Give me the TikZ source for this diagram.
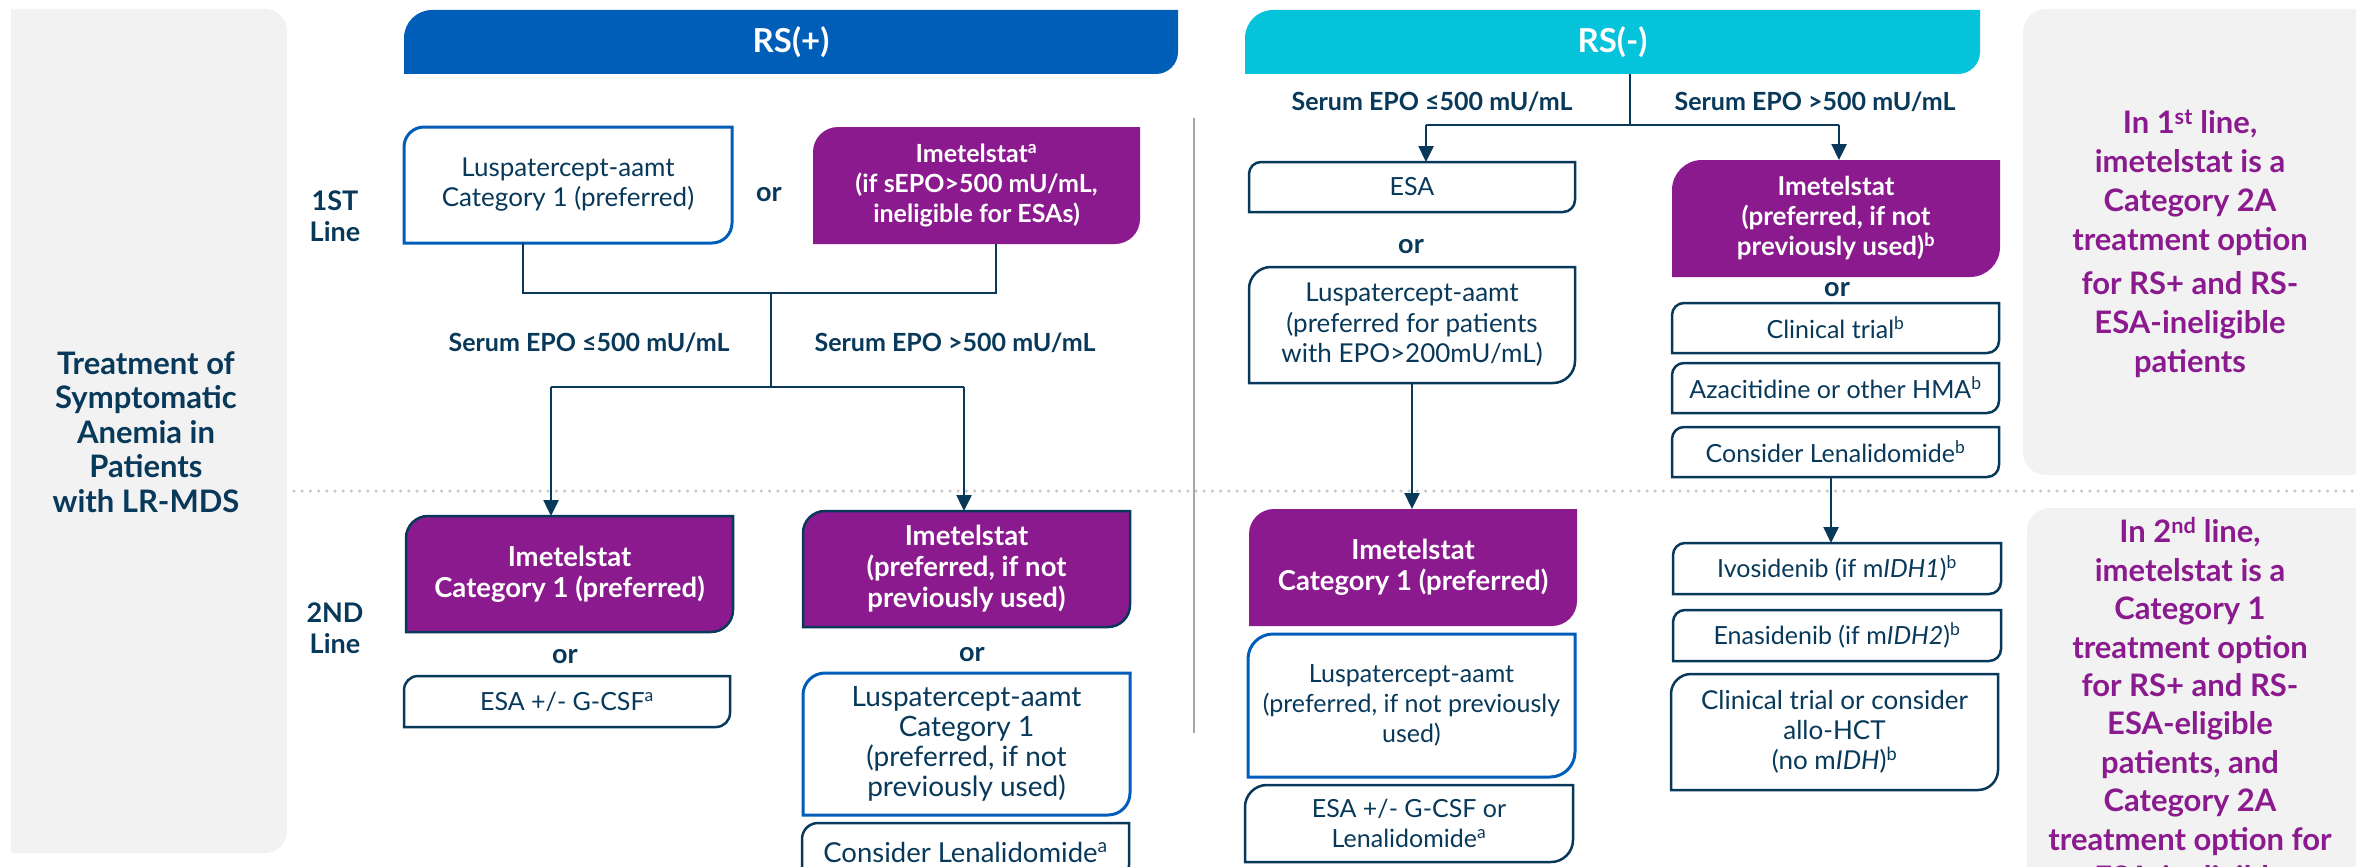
\documentclass[tikz,border=0pt]{standalone}
\usepackage{fontspec}
\setmainfont{Lato}
\usetikzlibrary{arrows.meta,calc}
\definecolor{navy}{HTML}{08395A}
\definecolor{rsblue}{HTML}{005EB8}
\definecolor{rscyan}{HTML}{06C3DC}
\definecolor{purp}{HTML}{8B1A8F}
\definecolor{panel}{HTML}{F2F2F2}
\definecolor{dotc}{HTML}{C8C8C8}
\definecolor{sepc}{HTML}{A6A6A6}
\pgfdeclarelayer{bg}
\pgfsetlayers{bg,main}
\tikzset{
 boxtxt/.style={inner sep=0pt,outer sep=0pt,align=center,text=navy,font=\fontsize{25}{30}\selectfont},
 wtxt/.style={boxtxt,text=white,font=\bfseries\fontsize{25}{30}\selectfont},
 wbig/.style={boxtxt,text=white,font=\bfseries\fontsize{27.5}{31}\selectfont},
 lbl/.style={text=navy,font=\bfseries\fontsize{25}{29}\selectfont,inner sep=0pt},
 ortxt/.style={text=navy,font=\bfseries\fontsize{27}{30}\selectfont,inner sep=0pt},
 conn/.style={draw=navy,line width=2.5pt},
 arr/.style={conn,-{Triangle[width=15pt,length=16pt]}},
 bluebd/.style={draw=rsblue,line width=3pt,fill=white},
 navybd/.style={draw=navy,line width=2.5pt,fill=white},
 purpfill/.style={fill=purp},
 purpbd/.style={fill=purp,draw=navy,line width=2.5pt},
 hdr/.style={boxtxt,text=white,font=\bfseries\fontsize{33}{40}\selectfont},
 sidetxt/.style={text=purp,align=center,inner sep=0pt},
}
% node with given rectangle
\newcommand\bx[7]{\node[#6,minimum width={(#4)-(#2)},minimum height={(#5)-(#3)}] (#1) at ({((#2)+(#4))/2},{((#3)+(#5))/2}) {#7};}
% background shape: rounded top-left and bottom-right
\newcommand\tlbr[4]{\begin{pgfonlayer}{bg}
 \path[#1] (#2.south west) -- ([yshift=-#3pt]#2.north west) arc[start angle=180,end angle=90,radius=#3pt] -- (#2.north east) -- ([yshift=#4pt]#2.south east) arc[start angle=0,end angle=-90,radius=#4pt] -- cycle;
 \end{pgfonlayer}}
\begin{document}
\begin{tikzpicture}[x=1pt,y=-1pt]
\useasboundingbox (0,0) rectangle (2364,867);
% panels
\fill[panel] (11,9) -- (265,9) arc[start angle=90,end angle=0,radius=22pt] -- (287,831) arc[start angle=0,end angle=-90,radius=22pt] -- (11,853) -- cycle;
\fill[panel] (2356,9) -- (2046,9) arc[start angle=90,end angle=180,radius=23pt] -- (2023,452) arc[start angle=180,end angle=270,radius=23pt] -- (2356,475) -- cycle;
\fill[panel] (2356,508) -- (2050,508) arc[start angle=90,end angle=180,radius=23pt] -- (2027,900) -- (2356,900) -- cycle;
% dotted divider and separator
\coordinate (dl) at (294,491);
\coordinate (dr) at (2358,491);
\draw[dotc,line width=3.5pt,line cap=round,dash pattern=on 0pt off 8.2pt] (dl) -- (dr);
\coordinate (s1) at (1194,118);
\coordinate (s2) at (1194,733);
\draw[sepc,line width=2pt] (s1) -- (s2);
% side texts
\node[text=navy,font=\bfseries\fontsize{31}{34.5}\selectfont,align=center,inner sep=0pt] (title) at (146,432) {Treatment of\\Symptomatic\\Anemia in\\Patients\\with LR-MDS};
\node[text=navy,font=\bfseries\fontsize{27}{31}\selectfont,align=center,inner sep=0pt] (l1) at (335,216) {1ST\\Line};
\node[text=navy,font=\bfseries\fontsize{27}{31}\selectfont,align=center,inner sep=0pt] (l2) at (335,628) {2ND\\Line};
\node[sidetxt,font=\bfseries\fontsize{31}{39}\selectfont] (n1) at (2190,244) {In 1\textsuperscript{st} line,\\imetelstat is a\\Category 2A\\treatment option\\[5pt]for RS+ and RS-\\ESA-ineligible\\patients};
\node[sidetxt,font=\bfseries\fontsize{31}{38.4}\selectfont] (n2) at (2190,706) {In 2\textsuperscript{nd} line,\\imetelstat is a\\Category 1\\treatment option\\for RS+ and RS-\\ESA-eligible\\patients, and\\Category 2A\\treatment option for\\ESA-ineligible};
% headers
\bx{hp}{404}{10}{1178}{74}{hdr}{RS(+)}
\tlbr{fill=rsblue}{hp}{28}{22}
\bx{hm}{1245}{10}{1980}{74}{hdr}{RS(-)}
\tlbr{fill=rscyan}{hm}{28}{22}
% RS(+) boxes
\bx{A}{404}{127}{732}{243}{boxtxt,font=\fontsize{26}{30}\selectfont}{Luspatercept-aamt\\Category 1 (preferred)}
\tlbr{bluebd}{A}{20}{20}
\bx{B}{813}{127}{1140}{244}{wtxt}{Imetelstat\textsuperscript{a}\\(if sEPO>500 mU/mL,\\ineligible for ESAs)}
\tlbr{purpfill}{B}{25}{25}
\node[ortxt] (or1) at (769,195) {or};
\bx{C}{406}{516}{733}{632}{wbig}{Imetelstat\\Category 1 (preferred)}
\tlbr{purpbd}{C}{22}{22}
\node[ortxt] (or2) at (565,657) {or};
\bx{E}{404}{676}{730}{727}{boxtxt}{ESA +/- G-CSF\textsuperscript{a}}
\tlbr{navybd}{E}{14}{14}
\bx{D}{803}{511}{1130}{627}{wbig}{Imetelstat\\(preferred, if not\\previously used)}
\tlbr{purpbd}{D}{22}{22}
\node[ortxt] (or3) at (972,655) {or};
\bx{F}{803}{673}{1130}{815}{boxtxt,font=\fontsize{28}{30}\selectfont}{Luspatercept-aamt\\Category 1\\(preferred, if not\\previously used)}
\tlbr{bluebd}{F}{22}{22}
\bx{G}{802}{823}{1129}{881}{boxtxt,font=\fontsize{27.5}{30}\selectfont}{Consider Lenalidomide\textsuperscript{a}}
\tlbr{navybd}{G}{16}{16}
% RS(+) labels
\node[lbl] (e1) at (589,343) {Serum EPO ≤500 mU/mL};
\node[lbl] (e2) at (955,343) {Serum EPO >500 mU/mL};
% RS(-) labels
\node[lbl] (e3) at (1432,102) {Serum EPO ≤500 mU/mL};
\node[lbl] (e4) at (1815,102) {Serum EPO >500 mU/mL};
% RS(-) left column
\bx{H}{1249}{162}{1575}{212}{boxtxt}{ESA}
\tlbr{navybd}{H}{12}{12}
\node[ortxt] (or4) at (1411,247) {or};
\bx{I}{1249}{267}{1575}{383}{boxtxt,font=\fontsize{26}{30.5}\selectfont}{Luspatercept-aamt\\(preferred for patients\\with EPO>200mU/mL)}
\tlbr{navybd}{I}{22}{22}
\bx{J}{1249}{509}{1577}{626}{wbig}{Imetelstat\\Category 1 (preferred)}
\tlbr{purpfill}{J}{25}{25}
\bx{K}{1248}{634}{1575}{777}{boxtxt}{Luspatercept-aamt\\(preferred, if not previously\\used)}
\tlbr{bluebd}{K}{25}{25}
\bx{L}{1245}{785}{1573}{862}{boxtxt}{ESA +/- G-CSF or\\Lenalidomide\textsuperscript{a}}
\tlbr{navybd}{L}{22}{22}
% RS(-) right column
\bx{M}{1672}{160}{2000}{277}{wtxt,font=\bfseries\fontsize{26}{30}\selectfont}{Imetelstat\\(preferred, if not\\previously used)\textsuperscript{b}}
\tlbr{purpfill}{M}{30}{30}
\node[ortxt] (or5) at (1837,290) {or};
\bx{N}{1672}{303}{1999}{353}{boxtxt}{Clinical trial\textsuperscript{b}}
\tlbr{navybd}{N}{12}{12}
\bx{O}{1672}{363}{1999}{413}{boxtxt}{Azacitidine or other HMA\textsuperscript{b}}
\tlbr{navybd}{O}{12}{12}
\bx{P}{1672}{427}{1999}{477}{boxtxt}{Consider Lenalidomide\textsuperscript{b}}
\tlbr{navybd}{P}{12}{12}
\bx{Q}{1673}{543}{2001}{594}{boxtxt}{Ivosidenib (if m\textit{IDH1})\textsuperscript{b}}
\tlbr{navybd}{Q}{12}{12}
\bx{R}{1673}{610}{2001}{661}{boxtxt}{Enasidenib (if m\textit{IDH2})\textsuperscript{b}}
\tlbr{navybd}{R}{12}{12}
\bx{S}{1671}{674}{1998}{790}{boxtxt,font=\fontsize{26}{30}\selectfont}{Clinical trial or consider\\allo-HCT\\(no m\textit{IDH})\textsuperscript{b}}
\tlbr{navybd}{S}{20}{20}
% connectors RS(+)
\coordinate (p1) at (523,293);
\coordinate (p2) at (996,293);
\coordinate (p3) at (771,293);
\coordinate (p4) at (771,387);
\coordinate (p5) at (551,387);
\coordinate (p6) at (964,387);
\draw[conn] (A.south -| p1) -- (p1) -- (p2) -- (B.south -| p2);
\draw[conn] (p3) -- (p4);
\draw[conn] (p5) -- (p6);
\draw[arr] (p5) -- (C.north -| p5);
\draw[arr] (p6) -- (D.north -| p6);
% connectors RS(-)
\coordinate (q1) at (1630,125);
\coordinate (q2) at (1426,125);
\coordinate (q3) at (1839,125);
\coordinate (q4) at (1831,477);
\draw[conn] (hm.south -| q1) -- (q1);
\draw[conn] (q2) -- (q3);
\draw[arr] (q2) -- (H.north -| q2);
\draw[arr] (q3) -- (M.north -| q3);
\draw[arr] (I.south) -- (I.south |- J.north);
\draw[arr] (P.south -| q4) -- (Q.north -| q4);
\end{tikzpicture}
\end{document}
